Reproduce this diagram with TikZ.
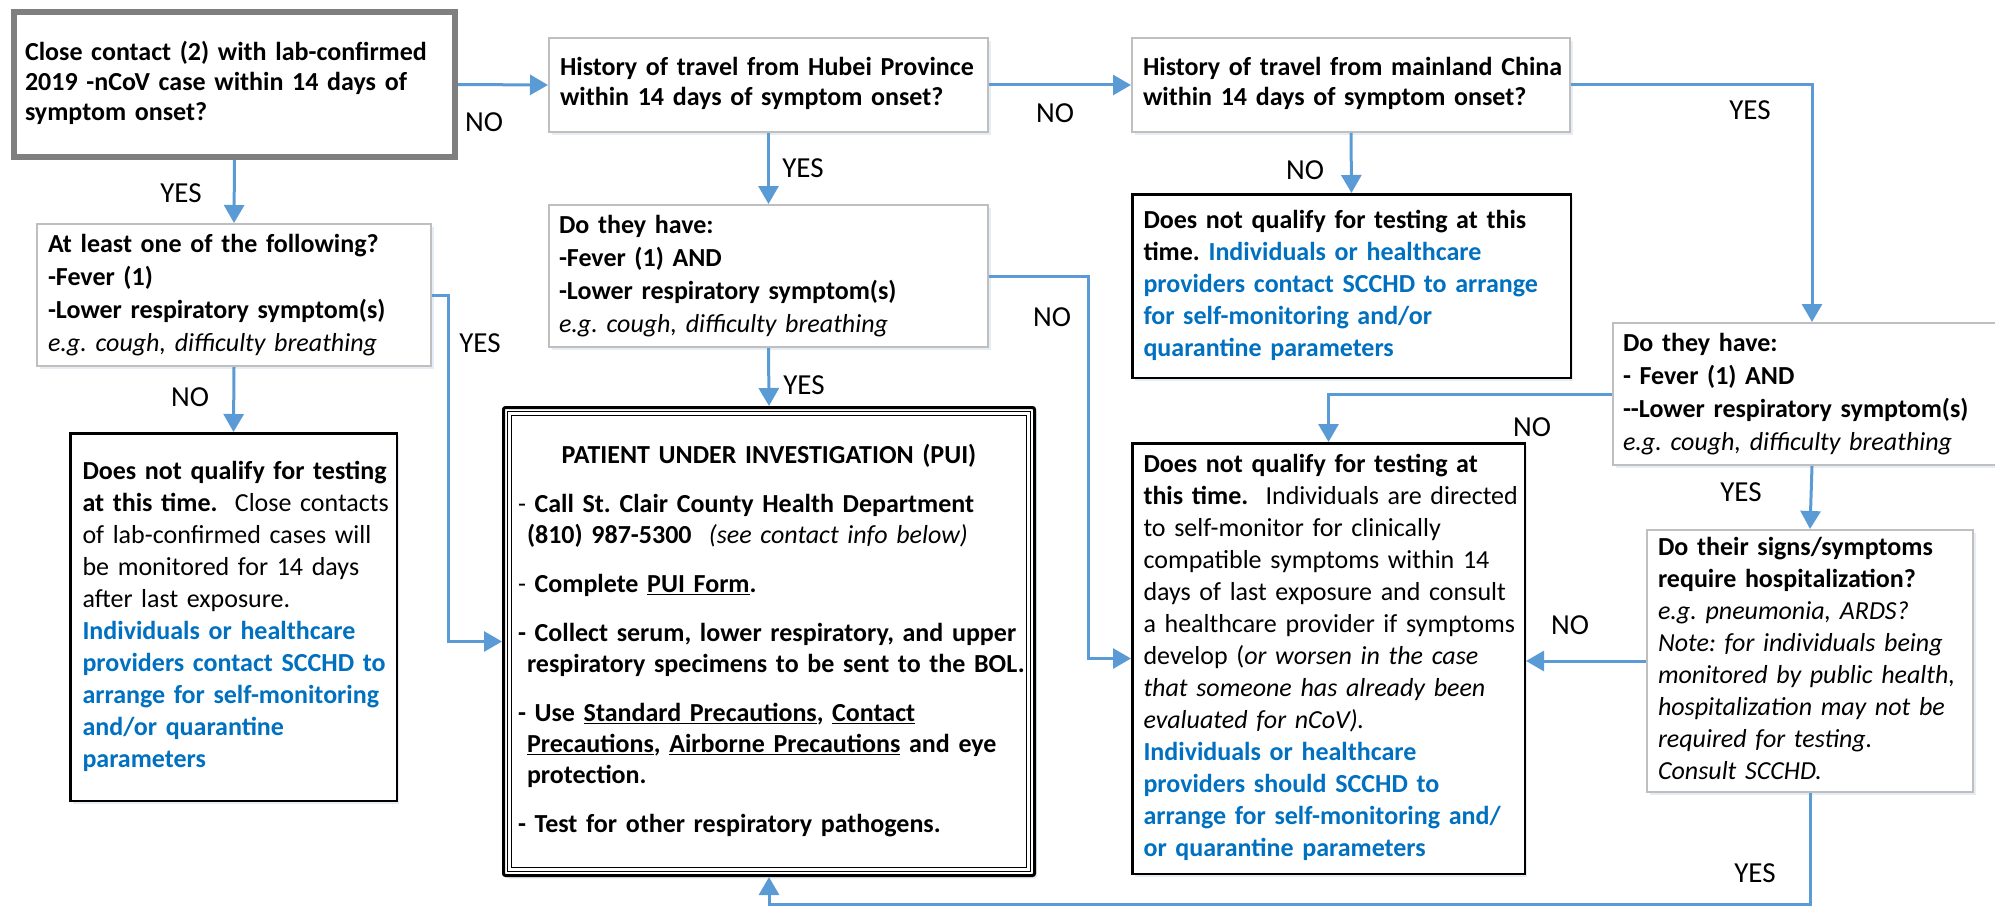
\documentclass[tikz,border=0pt]{standalone}
\usepackage{fontspec}
\setmainfont{Carlito}
\usetikzlibrary{arrows.meta,calc,shadows}
\definecolor{lineblue}{HTML}{5B9BD5}
\definecolor{txtblue}{HTML}{0070C0}
\definecolor{boxgray}{HTML}{BFBFBF}
\definecolor{framegray}{HTML}{7F7F7F}
\definecolor{shadowblue}{HTML}{9DB7D5}
\newcommand{\bl}[1]{\textcolor{txtblue}{#1}}
\newcommand{\tl}[1]{\begin{tabular}{@{}l@{}}#1\end{tabular}}
\newcommand{\itl}[1]{{\mdseries\itshape #1}}
\frenchspacing
\begin{document}
\begin{tikzpicture}[x=1pt,y=-1pt,
  shade/.style={drop shadow={shadow xshift=2.5pt, shadow yshift=-3pt, fill=shadowblue, opacity=0.25}},
  base/.style={align=left, fill=white, inner ysep=0pt, shade},
  graybox/.style={base, draw=boxgray, line width=2pt},
  blackbox/.style={base, draw=black, line width=2.5pt},
  qfont/.style={font=\bfseries\fontsize{26pt}{30pt}\selectfont},
  bfont/.style={font=\bfseries\fontsize{26pt}{32pt}\selectfont},
  conn/.style={draw=lineblue, line width=3pt, -{Triangle[length=18pt,width=20pt]}},
  lbl/.style={font=\fontsize{29pt}{30pt}\selectfont, inner sep=0pt}
]
\useasboundingbox (0,0) rectangle (1995,907);
\begin{scope}
\clip (0,0) rectangle (1995,907);

% boxes
\node[base, draw=framegray, line width=6pt, qfont, minimum width=441pt, minimum height=145pt,
  text width=419pt, inner xsep=11pt] (A) at (234.5,84.5)
  {\tl{Close contact (2) with lab-confirmed\\2019 -nCoV case within 14 days of\\symptom onset?}};

\node[graybox, qfont, minimum width=439pt, minimum height=94pt, text width=417pt, inner xsep=11pt]
  (B) at (768.5,85) {\tl{History of travel from Hubei Province\\within 14 days of symptom onset?}};

\node[graybox, qfont, minimum width=438pt, minimum height=94pt, text width=416pt, inner xsep=11pt]
  (C) at (1351,85) {\tl{History of travel from mainland China\\within 14 days of symptom onset?}};

\node[blackbox, bfont, minimum width=438.5pt, minimum height=183.5pt, text width=416pt, inner xsep=11pt]
  (D) at (1351.5,286) {\tl{Does not qualify for testing at this\\time. \bl{Individuals or healthcare}\\\bl{providers contact SCCHD to arrange}\\\bl{for self-monitoring and/or}\\\bl{quarantine parameters}}};

\node[graybox, font=\bfseries\fontsize{26pt}{33pt}\selectfont, minimum width=394pt, minimum height=142pt,
  text width=372pt, inner xsep=11pt] (E) at (234,295)
  {\tl{At least one of the following?\\-Fever (1)\\-Lower respiratory symptom(s)\\\itl{e.g. cough, difficulty breathing}}};

\node[blackbox, bfont, minimum width=326.5pt, minimum height=367.5pt, text width=302pt, inner xsep=12pt]
  (F) at (233.5,617) {\tl{Does not qualify for testing\\at this time.\ \ {\mdseries Close contacts}\\{\mdseries of lab-confirmed cases will}\\{\mdseries be monitored for 14 days}\\{\mdseries after last exposure.}\\\bl{Individuals or healthcare}\\\bl{providers contact SCCHD to}\\\bl{arrange for self-monitoring}\\\bl{and/or quarantine}\\\bl{parameters}}};

\node[graybox, font=\bfseries\fontsize{26pt}{33pt}\selectfont, minimum width=439pt, minimum height=142pt,
  text width=419pt, inner xsep=10pt] (G) at (768.5,276)
  {\tl{Do they have:\\-Fever (1) AND\\-Lower respiratory symptom(s)\\\itl{e.g. cough, difficulty breathing}}};

\node[base, draw=black, line width=3pt, rounded corners=2pt, font=\bfseries\fontsize{26pt}{31pt}\selectfont,
  minimum width=531pt, minimum height=468pt, text width=502pt, inner xsep=14.5pt] (PUI) at (769,641.5)
  {\tl{\makebox[502pt][c]{PATIENT UNDER INVESTIGATION (PUI)}\\[18pt]
  {\mdseries -} Call St. Clair County Health Department\\
  \hspace*{9pt}(810) 987-5300\ \ \itl{(see contact info below)}\\[18pt]
  {\mdseries -} Complete \underline{PUI Form}.\\[18pt]
  - Collect serum, lower respiratory, and upper\\
  \hspace*{9pt}respiratory specimens to be sent to the BOL.\\[18pt]
  - Use \underline{Standard Precautions}, \underline{Contact}\\
  \hspace*{9pt}\underline{Precautions}, \underline{Airborne Precautions} and eye\\
  \hspace*{9pt}protection.\\[18pt]
  - Test for other respiratory pathogens.}};
\draw[line width=1pt] ([shift={(5.5,5.5)}]PUI.north west) rectangle ([shift={(-5.5,-5.5)}]PUI.south east);
\draw[line width=1.2pt] ([shift={(9.5,9.5)}]PUI.north west) rectangle ([shift={(-9.5,-9.5)}]PUI.south east);

\node[graybox, font=\bfseries\fontsize{26pt}{33pt}\selectfont, minimum width=398pt, minimum height=142pt,
  text width=378pt, inner xsep=10pt] (H) at (1812,394)
  {\tl{Do they have:\\- Fever (1) AND\\-{}-Lower respiratory symptom(s)\\\itl{e.g. cough, difficulty breathing}}};

\node[blackbox, bfont, minimum width=392.5pt, minimum height=430.5pt, text width=370pt, inner xsep=11pt]
  (J) at (1328.5,658.5) {\tl{Does not qualify for testing at\\this time.\ \ {\mdseries Individuals are directed}\\{\mdseries to self-monitor for clinically}\\{\mdseries compatible symptoms within 14}\\{\mdseries days of last exposure and consult}\\{\mdseries a healthcare provider if symptoms}\\{\mdseries develop (}\itl{or worsen in the case}\\\itl{that someone has already been}\\\itl{evaluated for nCoV).}\\\bl{Individuals or healthcare}\\\bl{providers should SCCHD to}\\\bl{arrange for self-monitoring and/}\\\bl{or quarantine parameters}}};

\node[graybox, bfont, minimum width=326pt, minimum height=262pt, text width=304pt, inner xsep=11pt]
  (K) at (1810,661) {\tl{Do their signs/symptoms\\require hospitalization?\\\itl{e.g. pneumonia, ARDS?}\\\itl{Note: for individuals being}\\\itl{monitored by public health,}\\\itl{hospitalization may not be}\\\itl{required for testing.}\\\itl{Consult SCCHD.}}};

% connectors
\draw[conn] (A.east) -- (B.west);
\draw[conn] (B.east) -- (C.west);
\draw[conn] (A.south) -- (E.north);
\draw[conn] (B.south) -- (G.north);
\draw[conn] (C.south) -- (D.north);
\draw[conn] (C.east) -| (H.north);
\draw[conn] (E.south) -- (F.north);
\draw[conn] (E.east) -- ++(16,0) |- (PUI.west);
\draw[conn] (G.south) -- (PUI.north);
\draw[conn] (G.east) -- ++(99,0) |- (J.west);
\draw[conn] (H.west) -| (J.north);
\draw[conn] (K.west) -- (K.west -| J.east);
\draw[conn] (H.south) -- (K.north);
\draw[conn] (K.south) -- ++(0,111) -| (PUI.south);

% labels
\node[lbl] (l1) at (484,122) {NO};
\node[lbl] (l2) at (1055,113) {NO};
\node[lbl] (l3) at (1750,110) {YES};
\node[lbl] (l4) at (181,193) {YES};
\node[lbl] (l5) at (803,168) {YES};
\node[lbl] (l6) at (1305,170) {NO};
\node[lbl] (l7) at (480,343) {YES};
\node[lbl] (l8) at (190,397) {NO};
\node[lbl] (l9) at (804,385) {YES};
\node[lbl] (l10) at (1052,317) {NO};
\node[lbl] (l11) at (1532,427) {NO};
\node[lbl] (l12) at (1570,625) {NO};
\node[lbl] (l13) at (1741,492) {YES};
\node[lbl] (l14) at (1755,873) {YES};
\end{scope}
\end{tikzpicture}
\end{document}
